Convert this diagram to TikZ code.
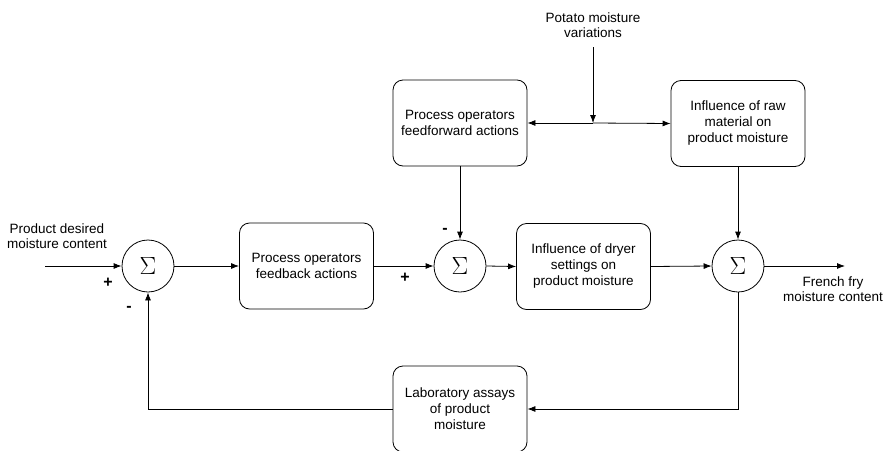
\documentclass[tikz,border=0pt]{standalone}
\usepackage{fontspec}
\setmainfont{Liberation Sans}
\usetikzlibrary{arrows.meta}

\tikzset{
    blockbox/.style={draw, rounded corners=10pt, minimum width=134pt, minimum height=86pt,
        align=center, inner sep=2pt, font=\fontsize{13.5}{16}\selectfont},
    sumnode/.style={draw, circle, minimum size=52pt, inner sep=0pt,
        font=\fontsize{30}{30}\selectfont},
    lbl/.style={align=center, inner sep=1pt, font=\fontsize{13.5}{15.5}\selectfont},
    sgn/.style={inner sep=0pt, font=\fontsize{16}{16}\selectfont\bfseries},
    conn/.style={-{Latex[length=8pt,width=6pt]}}
}

\begin{document}
\begin{tikzpicture}[x=1pt, y=-1pt, line width=0.8pt]
        \useasboundingbox (0,0) rectangle (889,450);

        % blocks
        \node[blockbox] (ff) at (460,123) {Process operators\\feedforward actions};
        \node[blockbox] (raw) at (738,123.5) {Influence of raw\\material on\\product moisture};
        \node[blockbox] (fb) at (306.5,266) {Process operators\\feedback actions};
        \node[blockbox] (dry) at (583.5,266.5) {Influence of dryer\\settings on\\product moisture};
        \node[blockbox] (lab) at (460,409) {Laboratory assays\\of product\\moisture};

        % summing junctions
        \node[sumnode] (s1) at (148,266) {$\Sigma$};
        \node[sumnode] (s2) at (460,266) {$\Sigma$};
        \node[sumnode] (s3) at (738,266) {$\Sigma$};

        % texts
        \node[lbl] (pot) at (593,25) {Potato moisture\\variations};
        \node[lbl] (desired) at (57,236) {Product desired\\moisture content};
        \node[lbl] (fry) at (833,289) {French fry\\moisture content};

        \coordinate (in) at (45,266);
        \coordinate (out) at (845,266);
        \coordinate (jn) at (593,123);
        \coordinate (ptop) at (593,47);

        % signs
        \node[sgn] (p1) at (108,283) {+};
        \node[sgn] (m1) at (129,309) {-};
        \node[sgn] (m2) at (445,231) {-};
        \node[sgn] (p2) at (405,278) {+};

        % connectors
        \draw[conn] (in) -- (s1.west);
        \draw[conn] (s1.east) -- (fb.west);
        \draw[conn] (fb.east) -- (s2.west);
        \draw[conn] (s2.east) -- (dry.west);
        \draw[conn] (dry.east) -- (s3.west);
        \draw[conn] (s3.east) -- (out);
        \draw[conn] (ptop) -- (jn);
        \draw[conn] (jn) -- (ff.east);
        \draw[conn] (jn) -- (raw.west);
        \draw[conn] (ff.south) -- (s2.north);
        \draw[conn] (raw.south) -- (s3.north);
        \draw[conn] (s3.south) |- (lab.east);
        \draw[conn] (lab.west) -| (s1.south);
    \end{tikzpicture}
\end{document}
